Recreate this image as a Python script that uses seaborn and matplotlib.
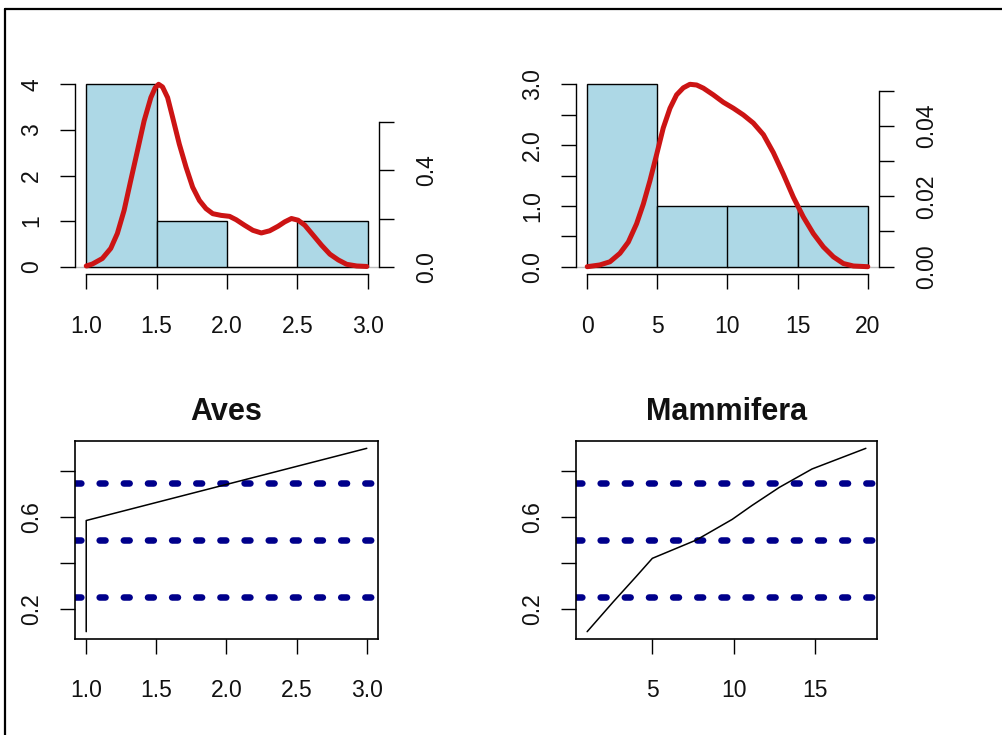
import matplotlib
matplotlib.use("Agg")
import matplotlib.pyplot as plt
import seaborn as sns
import numpy as np
import pandas as pd
from matplotlib.lines import Line2D

# ---------------- data ----------------
aves_edges = [1.0, 1.5, 2.0, 2.5, 3.0]
aves_counts = [4, 1, 0, 1]
aves_dens_x = [1.000, 1.043, 1.114, 1.174, 1.221, 1.269, 1.316, 1.364, 1.411, 1.459,
               1.490, 1.514, 1.542, 1.578, 1.614, 1.661, 1.709, 1.756, 1.804, 1.851,
               1.899, 1.958, 2.018, 2.065, 2.125, 2.184, 2.244, 2.303, 2.363, 2.410,
               2.458, 2.505, 2.553, 2.612, 2.672, 2.731, 2.791, 2.850, 2.922, 2.993]
aves_dens_y = [0.003, 0.011, 0.034, 0.076, 0.138, 0.234, 0.358, 0.482, 0.605, 0.702,
               0.743, 0.757, 0.746, 0.702, 0.619, 0.509, 0.413, 0.330, 0.275, 0.241,
               0.220, 0.213, 0.209, 0.195, 0.172, 0.151, 0.140, 0.149, 0.168, 0.186,
               0.200, 0.193, 0.172, 0.131, 0.089, 0.052, 0.028, 0.010, 0.003, 0.001]

mam_edges = [0, 5, 10, 15, 20]
mam_counts = [3, 1, 1, 1]
mam_dens_x = [0.00, 0.90, 1.62, 2.33, 2.93, 3.52, 4.00, 4.47, 4.95, 5.42, 5.90,
              6.37, 6.85, 7.32, 7.80, 8.28, 8.99, 9.70, 10.42, 11.13, 11.84, 12.56,
              13.27, 13.98, 14.70, 15.41, 16.12, 16.84, 17.55, 18.26, 18.98, 20.00]
mam_dens_y = [0.0000, 0.0005, 0.0014, 0.0038, 0.0070, 0.0122, 0.0178, 0.0244, 0.0319,
              0.0394, 0.0450, 0.0488, 0.0508, 0.0518, 0.0516, 0.0507, 0.0488, 0.0467,
              0.0450, 0.0431, 0.0408, 0.0375, 0.0324, 0.0263, 0.0197, 0.0141, 0.0094,
              0.0056, 0.0028, 0.0009, 0.0002, 0.0000]

aves_q_x = [1.0, 1.0, 3.0]
aves_q_p = [0.10, 0.585, 0.90]
mam_q_x = [1.0, 2.6, 4.0, 5.0, 7.7, 9.9, 11.1, 12.8, 14.8, 18.1]
mam_q_p = [0.10, 0.23, 0.34, 0.42, 0.50, 0.59, 0.65, 0.73, 0.81, 0.90]

ref_levels = [0.25, 0.50, 0.75]
titles = ["Aves", "Mammifera"]

tl_yticks = [0, 1, 2, 3, 4]
tl_ylabels = ["0", "1", "2", "3", "4"]
tl_xticks = [1.0, 1.5, 2.0, 2.5, 3.0]
tl_xlabels = ["1.0", "1.5", "2.0", "2.5", "3.0"]
tl_rticks = [0.0, 0.2, 0.4, 0.6]
tl_rlabels = ["0.0", "", "0.4", ""]

tr_yticks = [0, 0.5, 1.0, 1.5, 2.0, 2.5, 3.0]
tr_ylabels = ["0.0", "", "1.0", "", "2.0", "", "3.0"]
tr_xticks = [0, 5, 10, 15, 20]
tr_xlabels = ["0", "5", "10", "15", "20"]
tr_rticks = [0.00, 0.01, 0.02, 0.03, 0.04, 0.05]
tr_rlabels = ["0.00", "", "0.02", "", "0.04", ""]

b_yticks = [0.2, 0.4, 0.6, 0.8]
b_ylabels = ["0.2", "", "0.6", ""]
bl_xticks = [1.0, 1.5, 2.0, 2.5, 3.0]
bl_xlabels = ["1.0", "1.5", "2.0", "2.5", "3.0"]
br_xticks = [5, 10, 15]
br_xlabels = ["5", "10", "15"]

# ---------------- style ----------------
sns.set_style("ticks")
plt.rcParams['font.family'] = ['Liberation Sans', 'DejaVu Sans']
plt.rcParams['axes.facecolor'] = 'white'
plt.rcParams['figure.facecolor'] = 'white'

RED = "#CC1414"
BLUE = "#00008B"
FS = 16.5
TICKLEN = 10.8

W, H = 1003, 735
fig = plt.figure(figsize=(W / 100, H / 100), dpi=100)


def frac(x0, y0, x1, y1):
    return [x0 / W, 1 - y1 / H, (x1 - x0) / W, (y1 - y0) / H]


def expand(lo, hi):
    r = hi - lo
    return lo - 0.04 * r, hi + 0.04 * r


def style_ylabels(ax, pad):
    ax.tick_params(axis='y', which='both', length=TICKLEN, width=1.0,
                   labelsize=FS, pad=pad, direction='out', labelrotation=90,
                   color='black', labelcolor='#111111')
    for lab in ax.get_yticklabels():
        lab.set_va('center')
        lab.set_rotation(90)


def style_xlabels(ax, pad):
    ax.tick_params(axis='x', length=TICKLEN, width=1.0, labelsize=FS, pad=pad,
                   direction='out', color='black', labelcolor='#111111')


def hist_panel(rect, edges, counts, dens_x, dens_y, yt, yl, xt, xl, rt, rl):
    ax = fig.add_axes(rect)
    centers = [(edges[i] + edges[i + 1]) / 2 for i in range(len(counts))]
    df = pd.DataFrame({"x": centers, "w": counts})
    ax.axhline(0, color="#BEBEBE", lw=1.0, zorder=0)
    sns.histplot(data=df, x="x", weights="w", bins=edges, ax=ax,
                 color="#ADD8E6", edgecolor="black", linewidth=1.0, alpha=1.0,
                 zorder=2)
    ax.set_xlim(*expand(edges[0], edges[-1]))
    ax.set_ylim(*expand(0, max(counts)))
    ax.set_xlabel("")
    ax.set_ylabel("")
    for s in ("top", "right"):
        ax.spines[s].set_visible(False)
    ax.spines["left"].set_bounds(yt[0], yt[-1])
    ax.spines["bottom"].set_bounds(xt[0], xt[-1])
    for s in ("left", "bottom"):
        ax.spines[s].set_linewidth(1.0)
        ax.spines[s].set_color("black")
    ax.set_yticks(yt)
    ax.set_yticklabels(yl)
    ax.set_xticks(xt)
    ax.set_xticklabels(xl)
    style_ylabels(ax, 12)
    style_xlabels(ax, 19)
    ax.grid(False)

    ax2 = ax.twinx()
    m = max(dens_y)
    ddf = pd.DataFrame({"x": dens_x, "y": dens_y})
    sns.lineplot(data=ddf, x="x", y="y", ax=ax2, color=RED, linewidth=3.6,
                 sort=False, estimator=None, solid_capstyle='round',
                 solid_joinstyle='round')
    ax2.set_ylim(-0.04 * m, 1.04 * m)
    ax2.set_xlim(ax.get_xlim())
    ax2.set_xlabel("")
    ax2.set_ylabel("")
    for s in ("top", "left", "bottom"):
        ax2.spines[s].set_visible(False)
    ax2.spines["right"].set_bounds(rt[0], rt[-1])
    ax2.spines["right"].set_linewidth(1.0)
    ax2.spines["right"].set_color("black")
    ax2.set_yticks(rt)
    ax2.set_yticklabels(rl)
    style_ylabels(ax2, 15.5)
    ax2.grid(False)
    return ax


def q_panel(rect, qx, qp, title, xt, xl):
    ax = fig.add_axes(rect)
    ax.set_xlim(*expand(min(qx), max(qx)))
    ax.set_ylim(*expand(min(qp), max(qp)))
    for lvl in ref_levels:
        ax.axhline(lvl, color=BLUE, lw=4.7, linestyle=(0, (0.9, 2.8)),
                   dash_capstyle='round', zorder=1)
    qdf = pd.DataFrame({"x": qx, "p": qp})
    sns.lineplot(data=qdf, x="x", y="p", ax=ax, color="black", linewidth=1.1,
                 sort=False, estimator=None, zorder=3)
    ax.set_xlabel("")
    ax.set_ylabel("")
    for s in ax.spines.values():
        s.set_visible(True)
        s.set_linewidth(1.2)
        s.set_color("black")
    ax.set_yticks(b_yticks)
    ax.set_yticklabels(b_ylabels)
    ax.set_xticks(xt)
    ax.set_xticklabels(xl)
    style_ylabels(ax, 12)
    style_xlabels(ax, 18)
    ax.set_title(title, fontsize=22, fontweight='bold', pad=15, color='#111111')
    ax.grid(False)
    return ax


hist_panel(frac(75, 77, 379, 274), aves_edges, aves_counts, aves_dens_x, aves_dens_y,
           tl_yticks, tl_ylabels, tl_xticks, tl_xlabels, tl_rticks, tl_rlabels)
hist_panel(frac(576, 77, 879, 274), mam_edges, mam_counts, mam_dens_x, mam_dens_y,
           tr_yticks, tr_ylabels, tr_xticks, tr_xlabels, tr_rticks, tr_rlabels)
q_panel(frac(75, 441, 378, 639), aves_q_x, aves_q_p, titles[0], bl_xticks, bl_xlabels)
q_panel(frac(576, 441, 877, 639), mam_q_x, mam_q_p, titles[1], br_xticks, br_xlabels)

# screenshot frame (top and left edges)
fig.add_artist(Line2D([4.5 / W, 4.5 / W], [0, 1 - 8.5 / H], transform=fig.transFigure,
                      color="black", lw=1.6))
fig.add_artist(Line2D([4.5 / W, 1], [1 - 8.5 / H, 1 - 8.5 / H], transform=fig.transFigure,
                      color="black", lw=1.6))

fig.savefig("out.png", dpi=100)
